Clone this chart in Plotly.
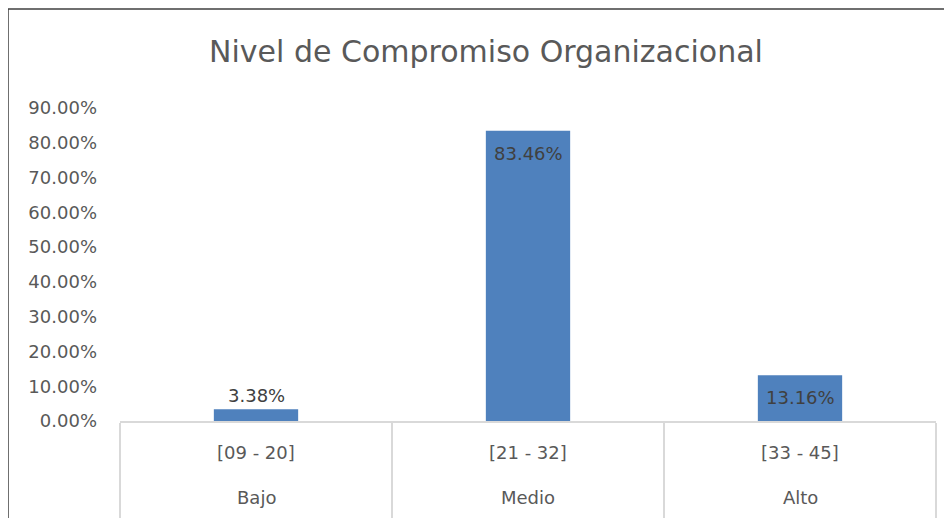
import plotly.graph_objects as go

niveles = ["Bajo", "Medio", "Alto"]
rangos = ["[09 - 20]", "[21 - 32]", "[33 - 45]"]
porcentajes = [3.38, 83.46, 13.16]
etiquetas = ["3.38%", "83.46%", "13.16%"]
y_ticks = [0, 10, 20, 30, 40, 50, 60, 70, 80, 90]
y_ticktext = ["0.00%", "10.00%", "20.00%", "30.00%", "40.00%", "50.00%", "60.00%", "70.00%", "80.00%", "90.00%"]

FONT = "DejaVu Sans"
GRAY = "#595959"
LABEL = "#404040"
FS = 18
OFF = 8  # default page margin of the html body

fig = go.Figure()
fig.add_trace(go.Bar(
    x=rangos,
    y=porcentajes,
    marker=dict(color="#4F81BD", line=dict(width=0)),
    hovertemplate="%{x}: %{y:.2f}%<extra></extra>",
))

W, H = 952, 518
L, T, AX, R = 120 - OFF, 108 - OFF, 421 - OFF, 936 - OFF
PH = AX - T
PW = R - L

fig.update_layout(
    width=W, height=H,
    margin=dict(l=L, r=W - R, t=T, b=H - AX, autoexpand=False),
    paper_bgcolor="white", plot_bgcolor="white",
    bargap=0.69,
    showlegend=False,
    title=dict(text="Nivel de Compromiso Organizacional", x=(486 - OFF) / W, xanchor="center",
               y=1 - (51 - OFF) / H, yanchor="middle",
               font=dict(family=FONT, size=30, color=GRAY)),
    font=dict(family=FONT, size=FS, color=GRAY),
)
fig.update_yaxes(range=[0, 90], tickvals=y_ticks, ticktext=y_ticktext, automargin=False,
                 showgrid=False, zeroline=False, showline=False,
                 tickfont=dict(family=FONT, size=FS, color=GRAY), ticks="", ticklabelstandoff=22)
fig.update_xaxes(type="category", range=[-0.5, 2.5], automargin=False,
                 showline=True, linecolor="#D9D9D9", linewidth=1.5,
                 showgrid=False, showticklabels=False,
                 ticks="outside", tickson="boundaries", ticklen=110,
                 tickcolor="#D9D9D9", tickwidth=1.5)

# data labels: above small bars, inside the end of tall bars
for r, v, t in zip(rangos, porcentajes, etiquetas):
    inside = v > 10
    fig.add_annotation(x=r, xref="x", y=v, yref="y", text=t, showarrow=False,
                       yanchor="top" if inside else "bottom",
                       yshift=-10 if inside else 1,
                       font=dict(family=FONT, size=FS, color=LABEL))

# two-level category labels
for r, n in zip(rangos, niveles):
    fig.add_annotation(x=r, xref="x", y=-31 / PH, yref="paper", text=r, showarrow=False,
                       yanchor="middle", font=dict(family=FONT, size=FS, color=GRAY))
    fig.add_annotation(x=r, xref="x", y=-76 / PH, yref="paper", text=n, showarrow=False,
                       yanchor="middle", font=dict(family=FONT, size=FS, color=GRAY))

fig.add_shape(type="rect", xref="paper", yref="paper",
              x0=(8 - OFF - L) / PW, x1=(970 - L) / PW,
              y0=(AX - 560) / PH, y1=(AX - (9 - OFF)) / PH,
              line=dict(color="#404040", width=1.5), fillcolor="rgba(0,0,0,0)", layer="below")

fig.write_html("out.html", config={"displayModeBar": False})
